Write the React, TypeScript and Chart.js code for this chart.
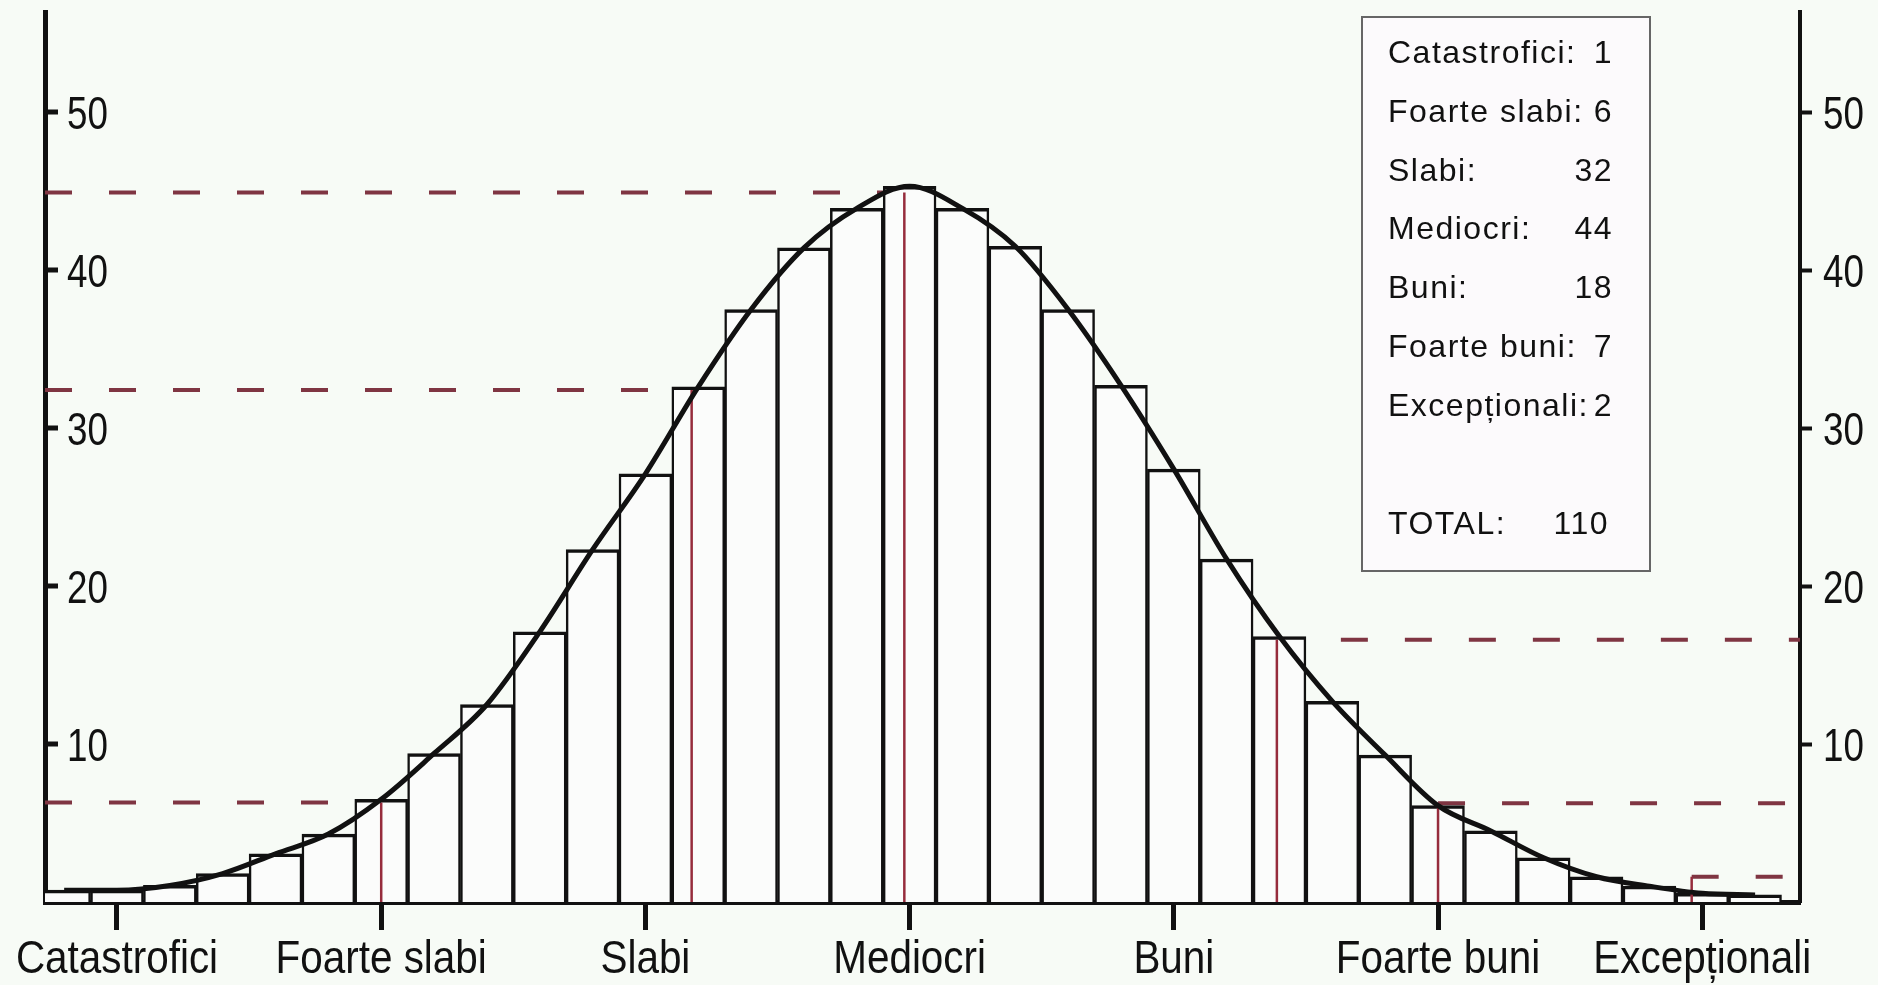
import React, { useEffect, useRef } from 'react';
import { Chart, registerables } from 'chart.js';

Chart.register(...registerables);

// ---------- data ----------
const categories = ['Catastrofici', 'Foarte slabi', 'Slabi', 'Mediocri', 'Buni', 'Foarte buni', 'Excepționali'];
const categoryPositions = [0, 1, 2, 3, 4, 5, 6];
const counts = [1, 6, 32, 44, 18, 7, 2];
const total = 110;

// histogram bars (centre on the category scale, height)
const barCenters = [
  -0.2, 0, 0.2, 0.4, 0.6, 0.8, 1.0, 1.2, 1.4, 1.6, 1.8, 2.0, 2.2, 2.4, 2.6, 2.8, 3.0,
  3.2, 3.4, 3.6, 3.8, 4.0, 4.2, 4.4, 4.6, 4.8, 5.0, 5.2, 5.4, 5.6, 5.8, 6.0, 6.2,
];
const barValues = [
  0.75, 0.75, 1.05, 1.8, 3.05, 4.3, 6.5, 9.4, 12.5, 17.1, 22.3, 27.1, 32.6, 37.5, 41.4, 43.9, 45.3,
  43.9, 41.5, 37.5, 32.7, 27.4, 21.7, 16.8, 12.7, 9.3, 6.1, 4.5, 2.8, 1.6, 1.0, 0.55, 0.45,
];

// red marker lines (position, height, side the dashed guide runs to)
const markerX = [1.0, 2.175, 2.98, 4.39, 5.0, 5.96];
const markerY = [6.3, 32.4, 44.9, 16.6, 6.25, 1.6];
const markerSide = ['left', 'left', 'left', 'right', 'right', 'right'];

const yTicks = [10, 20, 30, 40, 50];
const X_MIN = -0.2725;
const X_MAX = 6.37;
const Y_MAX = 56.33;

const BG = '#f7fbf6';
const SANS = "'Liberation Sans', Arial, sans-serif";

const bgPlugin = {
  id: 'bg',
  beforeDraw(chart: any) {
    const ctx = chart.ctx;
    ctx.save();
    ctx.fillStyle = BG;
    ctx.fillRect(0, 0, chart.width, chart.height);
    ctx.restore();
  },
};

function condensedText(ctx: CanvasRenderingContext2D, text: string, x: number, y: number, align: CanvasTextAlign, k: number) {
  ctx.save();
  ctx.translate(x, y);
  ctx.scale(k, 1);
  ctx.textAlign = align;
  ctx.textBaseline = 'alphabetic';
  ctx.fillText(text, 0, 0);
  ctx.restore();
}

const overlayPlugin = {
  id: 'overlay',
  afterDraw(chart: any) {
    const ctx: CanvasRenderingContext2D = chart.ctx;
    const area = chart.chartArea;
    const ys = chart.scales.y;
    const xs = chart.scales.x;
    const ys2 = chart.scales.y2;
    ctx.save();
    // inward ticks on the left axis
    ctx.strokeStyle = '#111';
    ctx.lineWidth = 5;
    ctx.beginPath();
    yTicks.forEach((v) => {
      const py = Math.round(ys.getPixelForValue(v));
      ctx.moveTo(area.left, py);
      ctx.lineTo(area.left + 13, py);
    });
    ctx.stroke();

    // axis labels (narrow, tall glyphs)
    ctx.fillStyle = '#111';
    ctx.font = `46px ${SANS}`;
    yTicks.forEach((v) => {
      const py = ys.getPixelForValue(v) + 16.5;
      condensedText(ctx, String(v), area.left + 22, py, 'left', 0.8);
      const py2 = ys2.getPixelForValue(v) + 16.5;
      condensedText(ctx, String(v), ys2.left + 23, py2, 'left', 0.8);
    });
    ctx.font = `47px ${SANS}`;
    categoryPositions.forEach((p, i) => {
      condensedText(ctx, categories[i], xs.getPixelForValue(p), area.bottom + 71, 'center', 0.86);
    });

    // statistics box
    const bx = 1362, by = 17, bw = 288, bh = 554;
    ctx.fillStyle = '#fcfafc';
    ctx.fillRect(bx, by, bw, bh);
    ctx.strokeStyle = '#666';
    ctx.lineWidth = 2;
    ctx.strokeRect(bx, by, bw, bh);
    ctx.fillStyle = '#111';
    ctx.font = `32px ${SANS}`;
    (ctx as any).letterSpacing = '1.5px';
    ctx.textBaseline = 'alphabetic';
    categories.forEach((c, i) => {
      const y = 63 + i * 58.8;
      ctx.textAlign = 'left';
      ctx.fillText(c + ':', 1388, y);
      ctx.textAlign = 'right';
      ctx.fillText(String(counts[i]), 1613, y);
    });
    ctx.textAlign = 'left';
    ctx.fillText('TOTAL:', 1388, 534);
    ctx.textAlign = 'right';
    ctx.fillText(String(total), 1609, 534);
    (ctx as any).letterSpacing = '0px';
    ctx.restore();
  },
};

export default function App() {
  const ref = useRef<HTMLCanvasElement | null>(null);

  useEffect(() => {
    document.body.style.margin = '0';
    document.body.style.background = BG;
    const canvas = ref.current;
    if (!canvas) return;

    const datasets: any[] = [];

    // dashed guides (drawn first, under the bars)
    markerX.forEach((mx, i) => {
      const y = markerY[i];
      const pts = markerSide[i] === 'left'
        ? [{ x: X_MIN, y }, { x: mx, y }]
        : [{ x: mx, y }, { x: X_MAX, y }];
      datasets.push({
        type: 'line',
        data: pts,
        borderColor: '#7f3542',
        borderWidth: 4,
        borderDash: [27, 37],
        pointRadius: 0,
        tension: 0,
        order: 10,
      });
    });

    datasets.push({
      type: 'bar',
      data: barCenters.map((x, i) => ({ x, y: barValues[i] })),
      backgroundColor: '#fbfcfb',
      borderColor: '#111',
      borderWidth: { top: 3.5, left: 2.5, right: 2.5, bottom: 0 },
      borderSkipped: 'start',
      barPercentage: 1,
      categoryPercentage: 1,
      grouped: false,
      order: 5,
    });

    markerX.forEach((mx, i) => {
      datasets.push({
        type: 'line',
        data: [{ x: mx, y: 0 }, { x: mx, y: markerY[i] }],
        borderColor: '#962c3c',
        borderWidth: 2.5,
        pointRadius: 0,
        tension: 0,
        order: 2,
      });
    });

    datasets.push({
      type: 'line',
      data: barCenters.map((x, i) => ({ x, y: barValues[i] })),
      borderColor: '#111',
      borderWidth: 5,
      pointRadius: 0,
      cubicInterpolationMode: 'monotone',
      order: 1,
    });

    const chart = new Chart(canvas, {
      type: 'bar',
      data: { datasets },
      options: {
        responsive: false,
        animation: false,
        devicePixelRatio: 1,
        layout: { padding: { top: 12, left: 0, right: 0, bottom: 0 } },
        plugins: { legend: { display: false }, tooltip: { enabled: false } },
        scales: {
          x: {
            type: 'linear',
            min: X_MIN,
            max: X_MAX,
            offset: false,
            afterFit: (s: any) => { s.height = 83; s.paddingLeft = 0; s.paddingRight = 0; },
            afterBuildTicks: (s: any) => { s.ticks = categoryPositions.map((v) => ({ value: v })); },
            grid: { display: true, drawOnChartArea: false, drawTicks: true, tickLength: 28, tickWidth: 5, tickColor: '#111', offset: false },
            border: { display: true, color: '#111', width: 5 },
            ticks: { display: false, autoSkip: false, maxRotation: 0 },
          },
          y: {
            type: 'linear',
            position: 'left',
            min: 0,
            max: Y_MAX,
            afterFit: (s: any) => { s.width = 45; s.paddingTop = 0; s.paddingBottom = 0; },
            afterBuildTicks: (s: any) => { s.ticks = yTicks.map((v) => ({ value: v })); },
            grid: { display: true, drawOnChartArea: false, drawTicks: false },
            border: { display: true, color: '#111', width: 5 },
            ticks: { display: false },
          },
          y2: {
            type: 'linear',
            position: 'right',
            min: 0,
            max: Y_MAX,
            afterFit: (s: any) => { s.width = 78; s.paddingTop = 0; s.paddingBottom = 0; },
            afterBuildTicks: (s: any) => { s.ticks = yTicks.map((v) => ({ value: v })); },
            grid: { display: true, drawOnChartArea: false, drawTicks: true, tickLength: 12, tickWidth: 4, tickColor: '#111' },
            border: { display: true, color: '#111', width: 4 },
            ticks: { display: false },
          },
        },
      },
      plugins: [bgPlugin, overlayPlugin],
    } as any);

    return () => chart.destroy();
  }, []);

  return (
    <div style={{ width: 1878, height: 985 }}>
      <canvas ref={ref} width={1878} height={985} style={{ display: 'block' }} />
    </div>
  );
}
